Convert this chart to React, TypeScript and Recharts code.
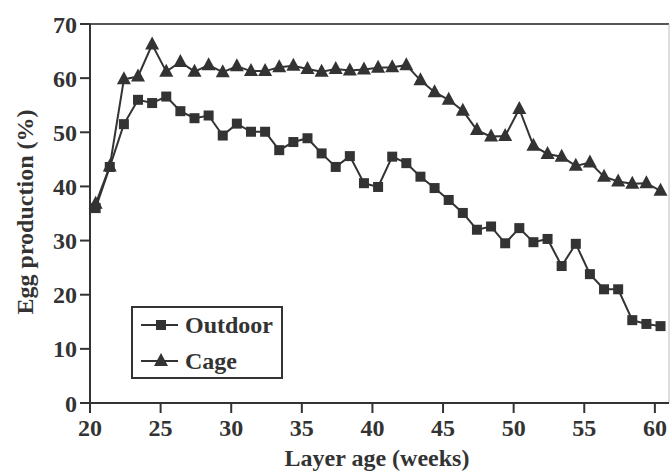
import React from 'react';
import { LineChart, Line, XAxis, YAxis, Legend, ReferenceLine } from 'recharts';

// layer age (weeks) of each sample
const weeks = [
  20.4, 21.4, 22.4, 23.4, 24.4, 25.4, 26.4, 27.4, 28.4, 29.4,
  30.4, 31.4, 32.4, 33.4, 34.4, 35.4, 36.4, 37.4, 38.4, 39.4,
  40.4, 41.4, 42.4, 43.4, 44.4, 45.4, 46.4, 47.4, 48.4, 49.4,
  50.4, 51.4, 52.4, 53.4, 54.4, 55.4, 56.4, 57.4, 58.4, 59.4, 60.4,
];

const outdoor = [
  36.0, 43.6, 51.5, 56.0, 55.4, 56.6, 53.9, 52.6, 53.1, 49.4,
  51.6, 50.1, 50.1, 46.7, 48.2, 48.9, 46.1, 43.6, 45.6, 40.6,
  39.9, 45.5, 44.3, 41.8, 39.7, 37.5, 35.1, 32.0, 32.6, 29.5,
  32.3, 29.7, 30.3, 25.3, 29.4, 23.8, 21.0, 21.0, 15.3, 14.6, 14.2,
];

const cage = [
  36.8, 43.7, 59.8, 60.3, 66.2, 61.2, 63.0, 61.2, 62.4, 61.1,
  62.2, 61.3, 61.3, 62.0, 62.3, 61.7, 61.2, 61.7, 61.4, 61.6,
  61.9, 62.0, 62.4, 59.6, 57.4, 56.0, 54.0, 50.4, 49.2, 49.3,
  54.3, 47.5, 46.0, 45.5, 43.8, 44.4, 41.8, 40.9, 40.5, 40.6, 39.2,
];

const xTicks = [20, 25, 30, 35, 40, 45, 50, 55, 60];
const yTicks = [0, 10, 20, 30, 40, 50, 60, 70];

const data = weeks.map((w, i) => ({ week: w, outdoor: outdoor[i], cage: cage[i] }));

const INK = '#333';
const FONT = '"Liberation Serif", "Times New Roman", serif';

const SquareDot = (props: any) => {
  const { cx, cy } = props;
  if (cx == null || cy == null) return null;
  return <rect x={cx - 5} y={cy - 5} width={10} height={10} fill={INK} />;
};

const TriangleDot = (props: any) => {
  const { cx, cy } = props;
  if (cx == null || cy == null) return null;
  return <polygon points={`${cx},${cy - 8} ${cx - 7},${cy + 5} ${cx + 7},${cy + 5}`} fill={INK} />;
};

const YLabel = () => (
  <text x={25} y={212} transform="rotate(-90 25 212)" textAnchor="middle" dominantBaseline="central"
    fontFamily={FONT} fontWeight="bold" fontSize={24} fill={INK}>
    Egg production (%)
  </text>
);

const XLabel = () => (
  <text x={377} y={466} textAnchor="middle" fontFamily={FONT} fontWeight="bold" fontSize={24} fill={INK}>
    Layer age (weeks)
  </text>
);

const renderLegend = () => (
  <svg width={148} height={69} style={{ display: 'block' }}>
    <line x1={8} x2={45} y1={17} y2={17} stroke={INK} strokeWidth={2} />
    <rect x={23} y={12} width={10} height={10} fill={INK} />
    <text x={52} y={17} dominantBaseline="central" fontFamily={FONT} fontWeight="bold" fontSize={24} fill={INK}>Outdoor</text>
    <line x1={8} x2={45} y1={53} y2={53} stroke={INK} strokeWidth={2} />
    <polygon points="28,45 21,58 35,58" fill={INK} />
    <text x={52} y={53} dominantBaseline="central" fontFamily={FONT} fontWeight="bold" fontSize={24} fill={INK}>Cage</text>
  </svg>
);

export default function App() {
  const tickStyle = { fontFamily: FONT, fontWeight: 'bold', fontSize: 24, fill: INK };
  return (
    <div style={{ position: 'absolute', left: 0, top: 0, background: '#fff' }}>
      <LineChart width={670} height={474} data={data} margin={{ top: 24, right: 1, left: 0, bottom: 0 }}>
        <XAxis
          dataKey="week"
          type="number"
          domain={[20, 61]}
          ticks={xTicks}
          height={71}
          tickSize={10}
          tickMargin={6}
          tick={tickStyle}
          stroke={INK}
          strokeWidth={2}
          label={<XLabel />}
        />
        <YAxis
          type="number"
          domain={[0, 70]}
          ticks={yTicks}
          width={90}
          tickSize={10}
          tickMargin={3}
          tick={tickStyle}
          stroke={INK}
          strokeWidth={2}
          label={<YLabel />}
        />
        <ReferenceLine y={70} stroke="#555" strokeWidth={2} />
        <ReferenceLine x={61} stroke="#bbb" strokeWidth={1} />
        <Line dataKey="outdoor" name="Outdoor" stroke={INK} strokeWidth={2} dot={<SquareDot />} isAnimationActive={false} />
        <Line dataKey="cage" name="Cage" stroke={INK} strokeWidth={2} dot={<TriangleDot />} isAnimationActive={false} />
        <Legend
          layout="horizontal"
          verticalAlign="middle"
          align="center"
          content={renderLegend}
          wrapperStyle={{ left: 131, top: 306, width: 152, height: 73, border: `2px solid ${INK}`, boxSizing: 'border-box', background: '#fff' }}
        />
      </LineChart>
    </div>
  );
}
